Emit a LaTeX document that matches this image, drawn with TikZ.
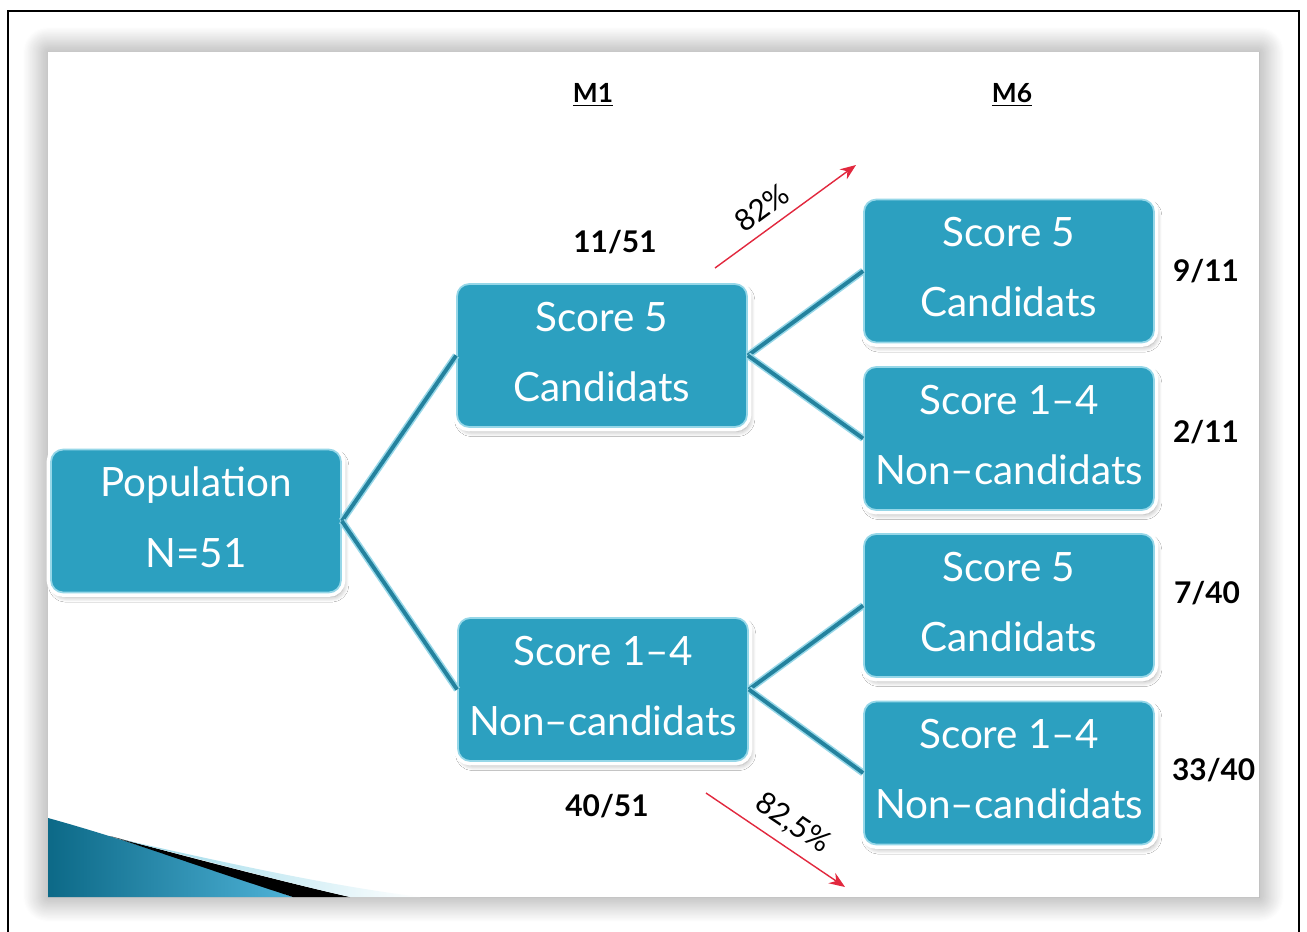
\documentclass[tikz,border=0pt]{standalone}
\usepackage{fontspec}
\setmainfont{Lato}
\usetikzlibrary{positioning,calc,shadows.blur,arrows.meta}

\definecolor{boxteal}{RGB}{44,160,192}
\definecolor{boxedge}{RGB}{150,215,232}
\definecolor{linkteal}{RGB}{36,130,158}
\definecolor{arrowred}{RGB}{226,40,62}
\definecolor{swoopdark}{RGB}{12,105,135}
\definecolor{swooplight}{RGB}{78,178,215}

\tikzstyle{scorebox} = [rectangle, rounded corners=7pt, minimum width=5.8cm, minimum height=2.86cm, align=center, text=white, text depth=0.16cm, fill=boxteal, draw=boxedge, line width=1pt, blur shadow={shadow xshift=1.5pt, shadow yshift=-2.5pt, shadow opacity=35, shadow blur radius=3pt, shadow blur steps=8}, preaction={draw=white, line width=5pt}, font=\fontsize{23}{40}\selectfont]
\tikzstyle{link} = [draw=linkteal, line width=2.2pt, preaction={draw=boxedge, line width=4pt}]
\tikzstyle{ratio} = [font=\bfseries\fontsize{17}{20}\selectfont, text=black]
\tikzstyle{month} = [font=\bfseries\fontsize{15}{18}\selectfont, text=black]
\tikzstyle{trend} = [draw=arrowred, line width=0.8pt, -{Stealth[length=9pt, width=7pt]}]
\tikzstyle{pct} = [font=\fontsize{17}{20}\selectfont, text=black]

\begin{document}
\begin{tikzpicture}
\useasboundingbox (0,0) rectangle (26.14,-18.64);

% frame and slide
\draw[black, line width=0.8pt] (0.16,-19) -- (0.16,-0.22) -- (25.98,-0.22) -- (25.98,-19);
\fill[white, blur shadow={shadow xshift=0pt, shadow yshift=0pt, shadow blur radius=0.5cm, shadow blur steps=24, shadow opacity=45}] (0.96,-1.04) rectangle (25.18,-17.94);

% corner swoosh
\shade[left color=swoopdark, right color=swooplight] (0.96,-16.36) .. controls (2.2,-16.7) and (4,-17.3) .. (5.86,-17.94) -- (0.96,-17.94) -- cycle;
\fill[black] (2.2,-16.72) .. controls (3.6,-17.1) and (5.5,-17.6) .. (7,-17.94) -- (5.86,-17.94) .. controls (4.5,-17.5) and (3.2,-17.05) .. cycle;
\shade[left color=boxedge, right color=white] (2.3,-16.76) .. controls (4.5,-17.25) and (6.5,-17.7) .. (8.4,-17.94) -- (7,-17.94) .. controls (5.5,-17.6) and (3.8,-17.12) .. cycle;

% headers
\node[month] (m1) at (11.86,-1.9) {\underline{M1}};
\node[month] (m6) at (20.24,-1.9) {\underline{M6}};

% boxes
\node (pop) [scorebox] at (3.92,-10.42) {Population\\N=51};
\node (s5) [scorebox] at (12.04,-7.11) {Score 5\\Candidats};
\node (nc) [scorebox] at (12.06,-13.79) {Score 1–4\\Non–candidats};

\node (r1) [scorebox] at (20.18,-5.42) {Score 5\\Candidats};
\node (r2) [scorebox, below of=r1, node distance=3.35cm] {Score 1–4\\Non–candidats};
\node (r3) [scorebox, below of=r2, node distance=3.34cm] {Score 5\\Candidats};
\node (r4) [scorebox, below of=r3, node distance=3.35cm] {Score 1–4\\Non–candidats};

%links
\draw [link] (pop.east) -- (s5.west);
\draw [link] (pop.east) -- (nc.west);
\draw [link] (s5.east) -- (r1.west);
\draw [link] (s5.east) -- (r2.west);
\draw [link] (nc.east) -- (r3.west);
\draw [link] (nc.east) -- (r4.west);

% ratios
\node[ratio] (q11) at (12.3,-4.84) {11/51};
\node[ratio] (q40) at (12.14,-16.12) {40/51};
\node[ratio, right=0.24cm of r1] (q9) {9/11};
\node[ratio, right=0.24cm of r2, yshift=0.12cm] (q2) {2/11};
\node[ratio, right=0.26cm of r3, yshift=0.24cm] (q7) {7/40};
\node[ratio, right=0.22cm of r4, yshift=0.06cm] (q33) {33/40};

% trends
\coordinate (up0) at (14.3,-5.36);
\coordinate (up1) at (17.12,-3.3);
\coordinate (dn0) at (14.12,-15.86);
\coordinate (dn1) at (16.9,-17.74);
\draw [trend] (up0) -- node[pct, pos=0.42, sloped, above=2pt] {82\%} (up1);
\draw [trend] (dn0) -- node[pct, pos=0.53, sloped, above=2pt] {82,5\%} (dn1);

\end{tikzpicture}
\end{document}
